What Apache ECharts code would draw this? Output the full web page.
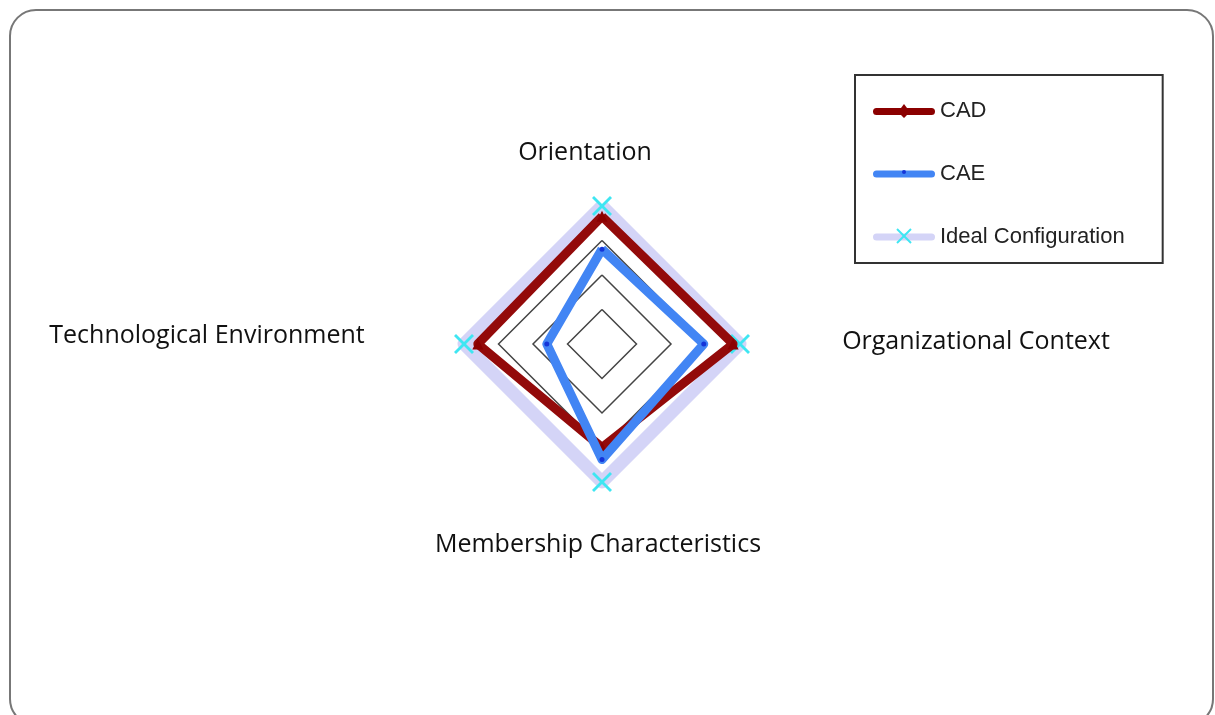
<!DOCTYPE html>
<html>
<head>
<meta charset="utf-8">
<script src="https://cdn.jsdelivr.net/npm/echarts@6/dist/echarts.min.js"></script>
<style>
  html, body { margin: 0; padding: 0; background: #fff; }
  #chart-container-radar { width: 1215px; height: 715px; }
</style>
</head>
<body>
<div id="chart-container-radar"></div>
<script>
// dimensions, in the order echarts places them (top, then counter-clockwise)
const indicatorNames = ['Orientation', 'Technological Environment', 'Membership Characteristics', 'Organizational Context'];
const cadValues = [3.7, 3.6, 3.0, 3.8];
const caeValues = [2.75, 1.6, 3.35, 2.95];
const idealValues = [4, 4, 4, 4];
const maxValue = 4;

const labelFont = '"Open Sans", Lato, sans-serif';
const xMark = 'path://M0,1L1,0L5,4L9,0L10,1L6,5L10,9L9,10L5,6L1,10L0,9L4,5Z';

// legend icons: line with the marker drawn on it
const cadIcon = 'path://M3.5,4L28,4L31,0L34,4L58.5,4A3.5,3.5,0,0,1,58.5,11L34,11L31,14L28,11L3.5,11A3.5,3.5,0,0,1,3.5,4Z';
const barIcon = 'path://M3.5,0L58.5,0A3.5,3.5,0,0,1,58.5,7L3.5,7A3.5,3.5,0,0,1,3.5,0Z';

// where each dimension name sits (centre of the text)
const namePos = [[585, 153], [207, 336], [598, 545], [976, 342]];

var dom = document.getElementById('chart-container-radar');
var myChart = echarts.init(dom, null, { renderer: 'canvas' });

var crossStyle = { stroke: '#3ee6f2', lineWidth: 2 };

var option = {
  backgroundColor: '#fff',
  animation: false,
  legend: {
    orient: 'vertical',
    left: 855,
    top: 75,
    padding: [25, 38, 15, 18],
    itemWidth: 62,
    itemHeight: 14,
    itemGap: 41,
    borderColor: '#333',
    borderWidth: 2,
    textStyle: { fontFamily: '"Liberation Sans", Arial, sans-serif', fontSize: 22, color: '#222' },
    data: [
      { name: 'CAD', icon: cadIcon, itemStyle: { color: '#8b0000' } },
      { name: 'CAE', icon: barIcon, itemStyle: { color: '#4285f4' } },
      { name: 'Ideal Configuration', icon: barIcon, itemStyle: { color: '#d4d4f7' } }
    ]
  },
  radar: {
    center: [602, 344],
    radius: 138,
    splitNumber: 4,
    shape: 'polygon',
    axisName: { show: false },
    axisLine: { show: false },
    axisTick: { show: false },
    splitArea: { show: false },
    splitLine: { lineStyle: { color: '#444', width: 1.5 } },
    indicator: indicatorNames.map(function (n) { return { name: n, max: maxValue }; })
  },
  graphic: [
    {
      type: 'rect',
      silent: true,
      shape: { x: 10, y: 10, width: 1203, height: 715, r: 26 },
      style: { fill: 'none', stroke: '#777', lineWidth: 2 }
    },
    // markers that sit on the legend lines
    { type: 'circle', silent: true, z: 100, shape: { cx: 904, cy: 172, r: 2 }, style: { fill: '#1434d8' } },
    { type: 'line', silent: true, z: 100, shape: { x1: 897, y1: 229, x2: 911, y2: 243 }, style: crossStyle },
    { type: 'line', silent: true, z: 100, shape: { x1: 911, y1: 229, x2: 897, y2: 243 }, style: crossStyle }
  ].concat(indicatorNames.map(function (n, i) {
    return {
      type: 'text',
      x: namePos[i][0],
      y: namePos[i][1],
      style: { text: n, font: '25px ' + labelFont, fill: '#111', align: 'center', verticalAlign: 'middle' }
    };
  })),
  series: [
    {
      type: 'radar',
      z: 2,
      symbol: xMark,
      symbolSize: 20,
      itemStyle: { color: '#3ee6f2' },
      lineStyle: { color: '#d4d4f7', width: 13 },
      data: [{ name: 'Ideal Configuration', value: idealValues }]
    },
    {
      type: 'radar',
      z: 3,
      symbol: 'triangle',
      symbolSize: 11,
      itemStyle: { color: '#8b0000' },
      lineStyle: { color: '#930a0a', width: 9 },
      data: [{ name: 'CAD', value: cadValues }]
    },
    {
      type: 'radar',
      z: 4,
      symbol: 'circle',
      symbolSize: 5,
      itemStyle: { color: '#1434d8' },
      lineStyle: { color: '#4285f4', width: 9 },
      data: [{ name: 'CAE', value: caeValues }]
    }
  ]
};

myChart.setOption(option);
window.addEventListener('resize', myChart.resize);
</script>
</body>
</html>
